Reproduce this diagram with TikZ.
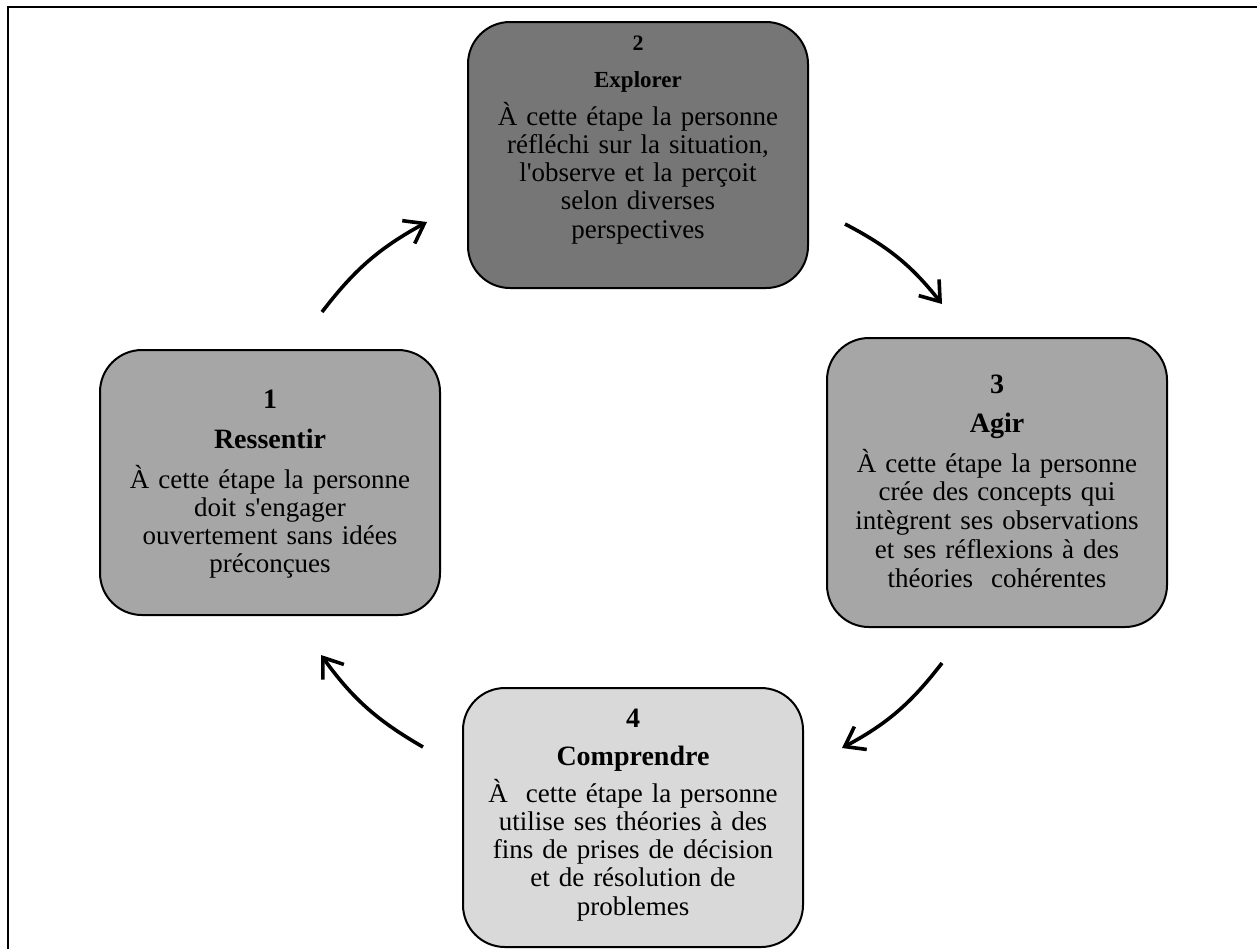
\documentclass[tikz,border=0pt]{standalone}
\usepackage{fontspec}
\setmainfont{Liberation Serif}
\usetikzlibrary{arrows.meta}
\definecolor{boxdark}{HTML}{767676}
\definecolor{boxmid}{HTML}{A6A6A6}
\definecolor{boxlight}{HTML}{D9D9D9}
\newcommand{\apos}{\textquotesingle}
\begin{document}
\begin{tikzpicture}[x=0.5pt,y=-0.5pt,
  frameline/.style={line width=1pt, draw=black},
  stagebox/.style={draw=black, line width=1pt, rounded corners=21pt, minimum width=170pt, inner sep=0pt},
  numtxt/.style={anchor=base, inner sep=0pt, font=\fontsize{14}{16}\selectfont\bfseries},
  titletxt/.style={anchor=base, inner sep=0pt, font=\fontsize{14}{16}\selectfont\bfseries},
  bodytxt/.style={anchor=base, inner sep=0pt, text width=168pt, align=center,
     font=\fontsize{13.5}{14.15}\selectfont},
  cyc/.style={line width=1.8pt, -{Straight Barb[length=9pt,width=13pt,line width=1.8pt]}, bend left=12}
]
\useasboundingbox (0,0) rectangle (1257,949);
\coordinate (fbl) at (8,949);
\coordinate (ftl) at (8,6.5);
\coordinate (ftr) at (1257,6.5);
\draw[frameline] (fbl) -- (ftl) -- (ftr);

% boxes
\node[stagebox, fill=boxmid, minimum height=132.5pt] (b1) at (270,482.5) {};
\node[stagebox, fill=boxdark, minimum height=133pt] (b2) at (638,155) {};
\node[stagebox, fill=boxmid, minimum height=144.5pt] (b3) at (997,482.5) {};
\node[stagebox, fill=boxlight, minimum height=129.5pt] (b4) at (633,817.5) {};

% box 1
\node[numtxt] (n1) at (270,408) {1};
\node[titletxt] (h1) at (270,448) {Ressentir};
\node[bodytxt] (t1) at (270,488) {À cette étape la personne\\doit s\apos engager\\ouvertement sans idées\\préconçues};

% box 2
\node[numtxt, font=\fontsize{11}{13}\selectfont\bfseries] (n2) at (638,50) {2};
\node[titletxt, font=\fontsize{11.5}{13}\selectfont\bfseries] (h2) at (638,87) {Explorer};
\node[bodytxt] (t2) at (638,125) {À cette étape la personne\\réfléchi sur la situation,\\l\apos observe et la perçoit\\selon diverses\\perspectives};

% box 3
\node[numtxt] (n3) at (997,393) {3};
\node[titletxt] (h3) at (997,432) {Agir};
\node[bodytxt, font=\fontsize{13.5}{14.4}\selectfont] (t3) at (997,472) {À cette étape la personne\\crée des concepts qui\\intègrent ses observations\\et ses réflexions à des\\théories\ \ cohérentes};

% box 4
\node[numtxt] (n4) at (633,727) {4};
\node[titletxt] (h4) at (633,765) {Comprendre};
\node[bodytxt] (t4) at (633,802) {À\ \ cette étape la personne\\utilise ses théories à des\\fins de prises de décision\\et de résolution de\\problemes};

% cycle arrows
\coordinate (a1s) at (322,312);
\coordinate (a1e) at (427,222);
\coordinate (a2s) at (845,224);
\coordinate (a2e) at (942,304);
\coordinate (a3s) at (942,663);
\coordinate (a3e) at (842,748);
\coordinate (a4s) at (423,747);
\coordinate (a4e) at (321,655);
\draw[cyc] (a1s) to (a1e);
\draw[cyc] (a2s) to (a2e);
\draw[cyc] (a3s) to (a3e);
\draw[cyc] (a4s) to (a4e);
\end{tikzpicture}
\end{document}
